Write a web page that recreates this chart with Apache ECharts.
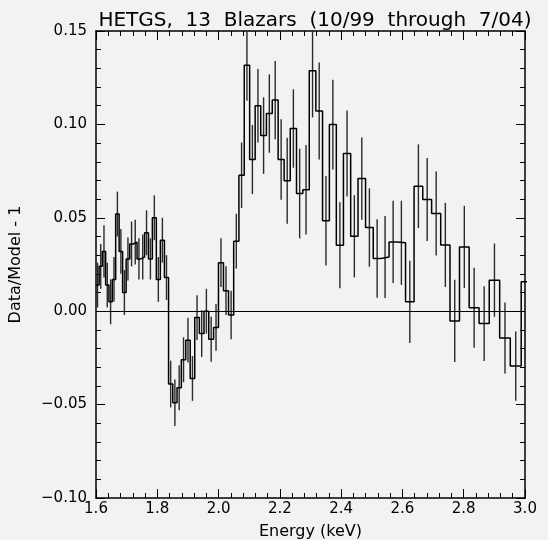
<!DOCTYPE html>
<html>
<head>
<meta charset="utf-8">
<title>HETGS, 13 Blazars</title>
<script src="https://cdn.jsdelivr.net/npm/echarts@6/dist/echarts.min.js"></script>
<style>
  html, body { margin: 0; padding: 0; background: #f2f2f2; }
  #chart { width: 548px; height: 540px; }
</style>
</head>
<body>
<div id="chart"></div>
<script>
// Bin edges in keV (bins of equal width in wavelength, 0.05 Å)
const binEdges = [
  1.5998, 1.6102, 1.6207, 1.6314, 1.6422, 1.6531, 1.6642, 1.6755, 1.6869, 1.6984,
  1.7101, 1.7220, 1.7340, 1.7463, 1.7586, 1.7712, 1.7839, 1.7969, 1.8100, 1.8233,
  1.8368, 1.8505, 1.8644, 1.8785, 1.8929, 1.9074, 1.9222, 1.9373, 1.9525, 1.9680,
  1.9837, 1.9997, 2.0160, 2.0325, 2.0493, 2.0664, 2.0838, 2.1014, 2.1194, 2.1376,
  2.1562, 2.1752, 2.1944, 2.2140, 2.2339, 2.2543, 2.2749, 2.2960, 2.3174, 2.3393,
  2.3616, 2.3843, 2.4075, 2.4311, 2.4551, 2.4797, 2.5047, 2.5303, 2.5564, 2.5830,
  2.6102, 2.6380, 2.6663, 2.6953, 2.7249, 2.7552, 2.7862, 2.8178, 2.8502, 2.8833,
  2.9173, 2.9520, 2.9876, 3.0240
];

// Data/Model - 1 in each bin
const ratio = [
  0.014, 0.024, 0.032, 0.014, 0.005, 0.017, 0.052, 0.032, 0.010, 0.028,
  0.036, 0.037, 0.028, 0.029, 0.042, 0.028, 0.050, 0.017, 0.038, 0.018,
  -0.039, -0.049, -0.041, -0.026, -0.0155, -0.036, -0.0034, -0.012, 0.000, -0.015,
  -0.0087, 0.026, 0.011, -0.002, 0.0375, 0.0728, 0.1317, 0.0812, 0.110, 0.094,
  0.1058, 0.113, 0.0812, 0.0698, 0.0978, 0.063, 0.065, 0.1287, 0.1072, 0.0484,
  0.0999, 0.0353, 0.0844, 0.0401, 0.071, 0.0448, 0.0282, 0.029, 0.0371, 0.0366,
  0.005, 0.0669, 0.0598, 0.0523, 0.0355, -0.0052, 0.0344, 0.0018, -0.0066, 0.0166,
  -0.0143, -0.0294, 0.0157
];

// 1-sigma uncertainty of each bin
const ratioErr = [
  0.012, 0.012, 0.014, 0.012, 0.012, 0.012, 0.012, 0.012, 0.012, 0.0115,
  0.012, 0.012, 0.011, 0.012, 0.012, 0.011, 0.012, 0.012, 0.012, 0.012,
  0.0125, 0.0125, 0.012, 0.012, 0.012, 0.012, 0.012, 0.0125, 0.012, 0.012,
  0.0125, 0.013, 0.013, 0.013, 0.0147, 0.0175, 0.019, 0.0185, 0.0197, 0.0205,
  0.021, 0.021, 0.0215, 0.023, 0.021, 0.024, 0.024, 0.025, 0.026, 0.024,
  0.024, 0.023, 0.023, 0.022, 0.022, 0.021, 0.021, 0.022, 0.022, 0.0225,
  0.022, 0.0224, 0.0222, 0.0225, 0.0225, 0.022, 0.022, 0.0214, 0.020, 0.0196,
  0.019, 0.0185, 0.019
];

// Axis ranges and tick spacing
const xRange = [1.6, 3.0];
const xStep = 0.2;
const yRange = [-0.10, 0.15];
const yStep = 0.05;

const titleText = 'HETGS,  13  Blazars  (10/99  through  7/04)';
const xName = 'Energy (keV)';
const yName = 'Data/Model - 1';

const FONT = 'DejaVu Sans';
const INK = '#000000';

// Histogram outline: horizontal at each bin value, vertical at each edge
const stepData = ratio.map((v, i) => [binEdges[i], v]);
stepData.push([binEdges[binEdges.length - 1], ratio[ratio.length - 1]]);

// Error bars at bin centres
const errData = ratio.map((v, i) => [(binEdges[i] + binEdges[i + 1]) / 2, v, ratioErr[i]]);

function fmtY(v) {
  const s = Math.abs(v).toFixed(2);
  return (v < -1e-9 ? '\u2212' : '') + s;
}

function axisCommon(labels) {
  return {
    axisLine: { show: true, onZero: false, lineStyle: { color: INK, width: 1.5 } },
    axisTick: { show: true, inside: true, length: 9, lineStyle: { color: INK, width: 1 } },
    minorTick: { show: true, length: 5, lineStyle: { color: INK, width: 1 } },
    splitLine: { show: false },
    minorSplitLine: { show: false },
    axisLabel: labels
  };
}

const chart = echarts.init(document.getElementById('chart'), null, { renderer: 'canvas' });

chart.setOption({
  animation: false,
  backgroundColor: '#f2f2f2',
  textStyle: { fontFamily: FONT },
  title: {
    text: titleText,
    left: 310,
    top: 6,
    textAlign: 'center',
    textStyle: { fontFamily: FONT, fontSize: 20, fontWeight: 'normal', color: INK }
  },
  grid: { left: 96, right: 23, top: 31, bottom: 42, containLabel: false, outerBoundsMode: 'none' },
  xAxis: [
    Object.assign({
      type: 'value', position: 'bottom', min: xRange[0], max: xRange[1], interval: xStep,
      name: xName, nameLocation: 'middle', nameGap: 26,
      nameTextStyle: { fontFamily: FONT, fontSize: 16, color: INK }
    }, axisCommon({
      show: true, margin: 4, color: INK, fontFamily: FONT, fontSize: 15,
      formatter: v => v.toFixed(1)
    })),
    Object.assign({
      type: 'value', position: 'top', min: xRange[0], max: xRange[1], interval: xStep
    }, axisCommon({ show: false }))
  ],
  yAxis: [
    Object.assign({
      type: 'value', position: 'left', min: yRange[0], max: yRange[1], interval: yStep,
      name: yName, nameLocation: 'middle', nameGap: 72, nameRotate: 90,
      nameTextStyle: { fontFamily: FONT, fontSize: 16, color: INK }
    }, axisCommon({
      show: true, margin: 9, color: INK, fontFamily: FONT, fontSize: 15,
      formatter: fmtY
    })),
    Object.assign({
      type: 'value', position: 'right', min: yRange[0], max: yRange[1], interval: yStep
    }, axisCommon({ show: false }))
  ],
  series: [
    {
      type: 'custom',
      name: 'errors',
      xAxisIndex: 0,
      yAxisIndex: 0,
      clip: true,
      data: errData,
      renderItem: function (params, api) {
        const c = api.value(0), v = api.value(1), e = api.value(2);
        const lo = Math.max(v - e, yRange[0]);
        const hi = Math.min(v + e, yRange[1]);
        if (c > xRange[1] || c < xRange[0]) return null;
        const p1 = api.coord([c, lo]);
        const p2 = api.coord([c, hi]);
        return {
          type: 'line',
          shape: { x1: p1[0], y1: p1[1], x2: p2[0], y2: p2[1] },
          style: { stroke: '#2a2a2a', lineWidth: 1.4 }
        };
      }
    },
    {
      type: 'line',
      name: 'ratio',
      xAxisIndex: 0,
      yAxisIndex: 0,
      step: 'end',
      data: stepData,
      showSymbol: false,
      symbol: 'none',
      clip: true,
      lineStyle: { color: INK, width: 1.5 },
      markLine: {
        silent: true,
        symbol: 'none',
        label: { show: false },
        lineStyle: { color: INK, width: 1, type: 'solid' },
        data: [{ yAxis: 0 }]
      }
    }
  ]
});
</script>
</body>
</html>
